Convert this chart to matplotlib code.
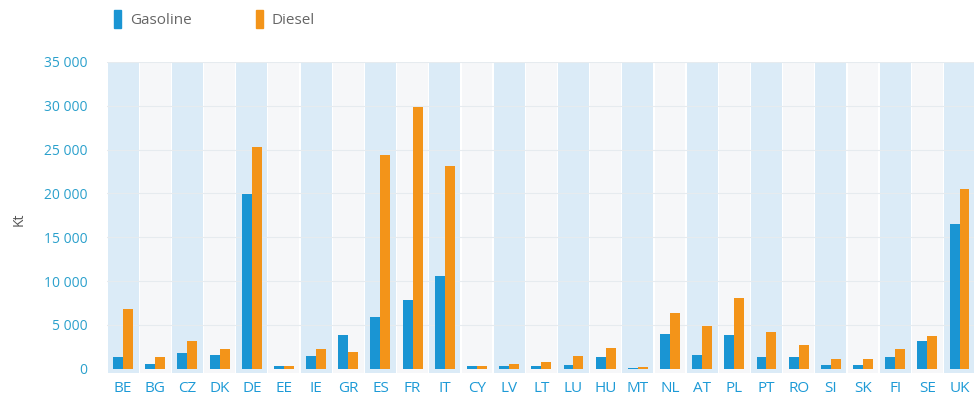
import matplotlib
matplotlib.use("Agg")
import matplotlib.pyplot as plt
from matplotlib.patches import Patch
import numpy as np

countries = ["BE", "BG", "CZ", "DK", "DE", "EE", "IE", "GR", "ES", "FR", "IT", "CY", "LV",
             "LT", "LU", "HU", "MT", "NL", "AT", "PL", "PT", "RO", "SI", "SK", "FI", "SE", "UK"]
gasoline = [1300, 500, 1800, 1500, 19900, 250, 1400, 3800, 5900, 7800, 10600, 250, 300,
            350, 400, 1300, 100, 4000, 1500, 3800, 1300, 1300, 400, 400, 1300, 3200, 16500]
diesel = [6800, 1300, 3200, 2200, 25300, 350, 2200, 1900, 24400, 29900, 23100, 350, 500,
          700, 1400, 2400, 150, 6400, 4900, 8100, 4200, 2700, 1100, 1100, 2200, 3700, 20500]
yticks = [0, 5000, 10000, 15000, 20000, 25000, 30000, 35000]
ytick_labels = ["0", "5 000", "10 000", "15 000", "20 000", "25 000", "30 000", "35 000"]

W, H = 974, 403
fig = plt.figure(figsize=(W / 100, H / 100), dpi=100)
fig.patch.set_facecolor("white")
ax = fig.add_axes([107 / W, 1 - 373 / H, (974 - 107) / W, (373 - 62) / H])
ax.set_facecolor("white")

x = np.arange(len(countries))
for i in x:
    col = "#dbebf7" if i % 2 == 0 else "#f6f7f9"
    ax.axvspan(i - 0.48, i + 0.48, color=col, zorder=0, lw=0)

for t in yticks[1:]:
    ax.axhline(t, color="#e6ebef", lw=0.8, zorder=0.5)

bw = 0.31
ax.bar(x - bw / 2, gasoline, width=bw, color="#1a95d3", zorder=2, label="Gasoline")
ax.bar(x + bw / 2, diesel, width=bw, color="#f39419", zorder=2, label="Diesel")

ax.set_xlim(-0.5, 26.45)
ax.set_ylim(-500, 35000)
ax.set_yticks(yticks)
ax.set_yticklabels(ytick_labels, fontsize=10, color="#2aa0cc", family="Open Sans")
ax.set_xticks(x)
ax.set_xticklabels(countries, fontsize=11, color="#1d9ad6", family="Open Sans")
ax.tick_params(axis="both", length=0)
ax.tick_params(axis="y", pad=14)
ax.tick_params(axis="x", pad=6)
for s in ax.spines.values():
    s.set_visible(False)

fig.text(19 / W, 1 - 219 / H, "Kt", rotation=90, fontsize=10, color="#555555",
         family="Open Sans", ha="center", va="center")

handles = [Patch(color="#1a95d3"), Patch(color="#f39419")]
fig.legend(handles, ["Gasoline", "Diesel"], loc="center left",
           bbox_to_anchor=(100 / W, 1 - 19 / H), ncol=2, frameon=False,
           handlelength=0.45, handleheight=1.4, handletextpad=0.6,
           columnspacing=4.2, prop={"family": "Open Sans", "size": 11},
           labelcolor="#666666")

fig.savefig("out.png", dpi=100, facecolor="white")
